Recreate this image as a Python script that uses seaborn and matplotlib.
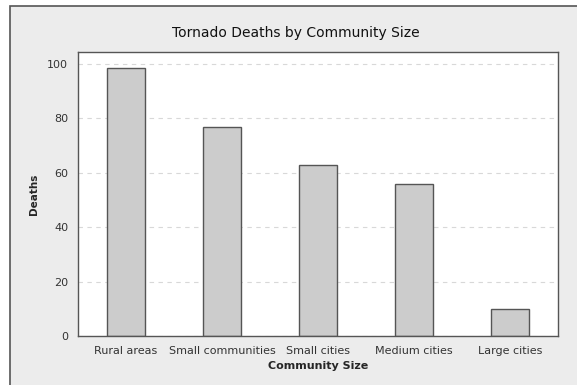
import matplotlib
matplotlib.use("Agg")
import matplotlib.pyplot as plt
import seaborn as sns
import pandas as pd
from matplotlib.patches import Rectangle

categories = ["Rural areas", "Small communities", "Small cities", "Medium cities", "Large cities"]
deaths = [98.5, 77, 63, 56, 10]
yticks = [0, 20, 40, 60, 80, 100]

df = pd.DataFrame({"Community Size": categories, "Deaths": deaths})

sns.set_style("white")
plt.rcParams['font.family'] = ['DejaVu Sans']

fig = plt.figure(figsize=(5.77, 3.85), dpi=100)
fig.patch.set_facecolor("white")
# outer gray panel with dark frame
fig.patches.append(Rectangle((10/577, -0.01), 1.01 - 10/577, 1.01 - 6/385, transform=fig.transFigure,
                             facecolor="#ececec", edgecolor="#555555", linewidth=1.2, zorder=-10))

ax = fig.add_axes([78/577, 1 - 336/385, (558-78)/577, (336-52)/385])
ax.set_zorder(5)
ax.set_facecolor("white")
sns.barplot(data=df, x="Community Size", y="Deaths", ax=ax, color="#cccccc",
            edgecolor="#555555", linewidth=1.0, width=0.4, saturation=1)
ax.set_xlim(-0.5, 4.5)
ax.set_ylim(0, 104.4)
ax.set_yticks(yticks)
ax.yaxis.grid(True, linestyle=(0, (4, 4)), color="#d8d8d8", linewidth=0.8)
ax.set_axisbelow(True)
for s in ax.spines.values():
    s.set_color("#555555")
    s.set_linewidth(1.0)
ax.tick_params(axis="both", labelsize=8, colors="#333333", length=3, width=0.8, direction="out", pad=4)
ax.set_xlabel("Community Size", fontsize=8, fontweight="bold", labelpad=4)
ax.set_ylabel("Deaths", fontsize=7.5, fontweight="bold", labelpad=6)
fig.text(296/577, 1 - 33/385, "Tornado Deaths by Community Size", ha="center", va="center",
         fontsize=10, color="#111111", zorder=10)

fig.savefig("out.png", dpi=100)
